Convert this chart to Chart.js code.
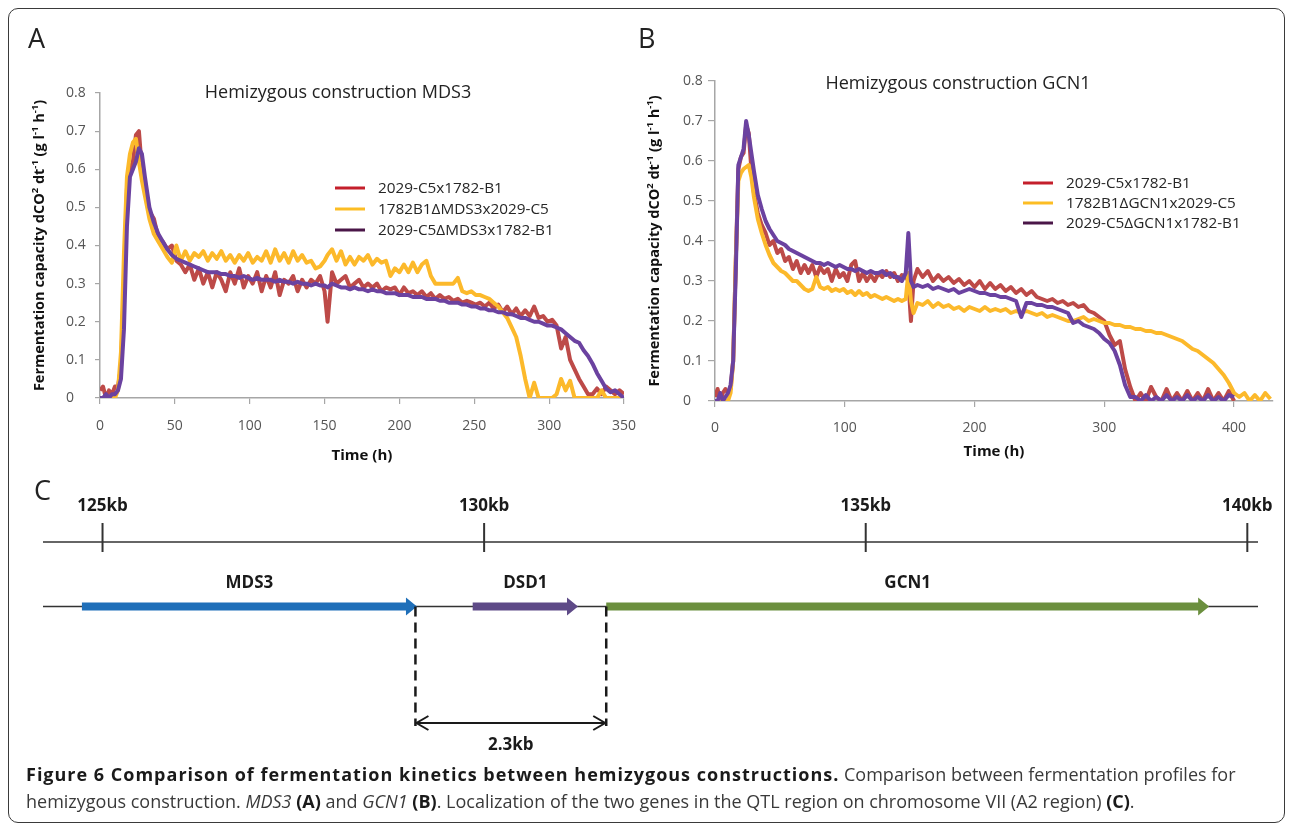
<!DOCTYPE html>
<html>
<head>
<meta charset="utf-8">
<script src="https://cdn.jsdelivr.net/npm/chart.js@4.4.1/dist/chart.umd.min.js"></script>
<style>
  html, body { margin: 0; padding: 0; background: #fff; }
  #fig { position: relative; width: 1293px; height: 827px; overflow: hidden; font-family: 'Open Sans', sans-serif; }
  #frame { position: absolute; left: 8px; top: 8px; width: 1275px; height: 813px; border: 1.5px solid #3a3a3a; border-radius: 10px; }
  canvas { position: absolute; }
  .letter { position: absolute; font-size: 27px; line-height: 1; color: #222; }
  #cap { position: absolute; left: 26px; top: 761px; font-size: 18px; line-height: 27px; color: #3a3a3a; white-space: nowrap; }
  #cap b { color: #1a1a1a; }
  #cap b.head { letter-spacing: 1px; }
</style>
</head>
<body>
<div id="fig">
  <div id="frame"></div>
  <canvas id="chartA" width="650" height="480" style="left:0;top:0;width:650px;height:480px"></canvas>
  <canvas id="chartB" width="673" height="480" style="left:620px;top:0;width:673px;height:480px"></canvas>
  <canvas id="chartC" width="1293" height="290" style="left:0;top:470px;width:1293px;height:290px"></canvas>
  <div class="letter" style="left:28px;top:24px">A</div>
  <div class="letter" style="left:638px;top:24px">B</div>
  <div class="letter" style="left:34px;top:476px">C</div>
  <div id="cap"><b class="head">Figure 6 Comparison of fermentation kinetics between hemizygous constructions.</b> Comparison between fermentation profiles for<br>hemizygous construction. <i>MDS3</i> <b>(A)</b> and <i>GCN1</i> <b>(B)</b>. Localization of the two genes in the QTL region on chromosome VII (A2 region) <b>(C)</b>.</div>
</div>
<script>
// ---- panel A: Hemizygous construction MDS3 ----
const timeA = [0,2,4,6,8,10,12,14,16,18,
  20,22,24,26,28,30,33,36,39,42,
  45,48,51,54,57,60,63,66,69,72,
  75,78,81,84,87,90,93,96,99,102,
  105,108,111,114,117,120,123,126,129,132,
  135,138,141,144,147,150,152,155,158,161,
  164,167,170,173,176,179,182,185,188,191,
  194,197,200,203,206,209,212,215,218,221,
  224,227,230,233,236,239,242,245,248,251,
  254,257,260,263,266,269,272,275,278,281,
  284,287,290,293,296,299,302,305,308,311,
  314,317,320,323,326,329,332,335,338,341,
  344,347,350];
const redA = [0.02,0.03,0.00,0.02,0.01,0.03,0.03,0.08,0.30,0.55,
  0.60,0.62,0.69,0.70,0.60,0.55,0.49,0.47,0.42,0.41,
  0.39,0.40,0.36,0.35,0.33,0.35,0.31,0.34,0.30,0.33,
  0.29,0.33,0.31,0.28,0.33,0.30,0.34,0.29,0.32,0.30,
  0.33,0.28,0.32,0.29,0.33,0.27,0.31,0.30,0.32,0.28,
  0.31,0.29,0.31,0.30,0.32,0.28,0.20,0.33,0.30,0.31,
  0.32,0.29,0.30,0.31,0.29,0.30,0.29,0.30,0.28,0.29,
  0.285,0.29,0.27,0.29,0.275,0.28,0.27,0.28,0.265,0.275,
  0.26,0.27,0.26,0.265,0.255,0.26,0.25,0.255,0.25,0.245,
  0.25,0.24,0.25,0.235,0.245,0.225,0.24,0.22,0.235,0.215,
  0.23,0.215,0.24,0.21,0.215,0.20,0.205,0.19,0.13,0.16,
  0.10,0.075,0.05,0.03,0.01,0.01,0.025,0.01,0.03,0.02,
  0.01,0.02,0.01];
const yellowA = [0,0,0,0,0,0,0.02,0.12,0.38,0.58,
  0.64,0.67,0.68,0.62,0.57,0.53,0.47,0.43,0.41,0.39,
  0.37,0.355,0.40,0.36,0.385,0.36,0.38,0.37,0.385,0.36,
  0.38,0.365,0.385,0.36,0.375,0.355,0.375,0.36,0.38,0.355,
  0.37,0.36,0.385,0.355,0.39,0.36,0.38,0.355,0.385,0.36,
  0.375,0.355,0.36,0.34,0.345,0.36,0.375,0.39,0.36,0.385,
  0.35,0.37,0.35,0.37,0.36,0.375,0.35,0.365,0.355,0.36,
  0.32,0.34,0.33,0.35,0.33,0.355,0.33,0.35,0.36,0.32,
  0.30,0.30,0.30,0.30,0.30,0.315,0.28,0.275,0.28,0.27,
  0.27,0.265,0.26,0.25,0.24,0.225,0.21,0.185,0.16,0.11,
  0.05,0.0,0.04,0.0,0.0,0.0,0.0,0.01,0.05,0.02,
  0.045,0.0,0.0,0.0,0.0,0.0,0.0,0.02,0.0,0.0,
  0,0,0];
const purpleA = [0.0,0.0,0.01,0.0,0.01,0.01,0.02,0.05,0.18,0.45,
  0.58,0.60,0.62,0.655,0.64,0.58,0.50,0.46,0.43,0.41,
  0.39,0.375,0.365,0.36,0.355,0.35,0.345,0.34,0.335,0.33,
  0.33,0.33,0.325,0.325,0.32,0.32,0.315,0.32,0.315,0.31,
  0.315,0.31,0.31,0.31,0.305,0.31,0.305,0.305,0.30,0.305,
  0.30,0.30,0.295,0.30,0.295,0.295,0.29,0.30,0.295,0.29,
  0.29,0.285,0.29,0.285,0.285,0.28,0.285,0.28,0.28,0.275,
  0.275,0.275,0.27,0.27,0.27,0.265,0.265,0.265,0.26,0.26,
  0.26,0.255,0.255,0.25,0.25,0.25,0.245,0.245,0.24,0.24,
  0.235,0.235,0.23,0.23,0.225,0.225,0.22,0.22,0.215,0.21,
  0.21,0.205,0.20,0.20,0.195,0.19,0.19,0.185,0.18,0.17,
  0.16,0.15,0.145,0.125,0.11,0.09,0.065,0.045,0.025,0.015,
  0.02,0.01,0.0];
const labelsA = ['2029-C5x1782-B1', '1782B1ΔMDS3x2029-C5', '2029-C5ΔMDS3x1782-B1'];
const xTicksA = [0, 50, 100, 150, 200, 250, 300, 350];

// ---- panel B: Hemizygous construction GCN1 ----
const timeB = [0,2,4,6,8,10,12,14,16,18,
  20,22,24,26,28,30,33,36,39,42,
  45,48,51,54,57,60,63,66,69,72,
  75,78,81,84,87,90,93,96,99,102,
  105,108,111,114,117,120,123,126,129,132,
  135,138,141,144,147,149,151,153,156,160,
  164,168,172,176,180,184,188,192,196,200,
  204,208,212,216,220,224,228,232,236,240,
  244,248,252,256,260,264,268,272,276,280,
  284,288,292,296,300,304,308,312,316,320,
  324,328,332,336,340,344,348,352,356,360,
  364,368,372,376,380,384,388,392,396,400,
  404,408,412,416,420,424,428];
const redB = [0.01,0.03,0.0,0.02,0.03,0.02,0.03,0.10,0.35,0.58,
  0.61,0.62,0.69,0.67,0.58,0.52,0.47,0.44,0.42,0.39,
  0.40,0.37,0.38,0.35,0.36,0.33,0.35,0.32,0.34,0.32,
  0.34,0.31,0.335,0.32,0.33,0.30,0.33,0.31,0.32,0.30,
  0.34,0.35,0.30,0.32,0.30,0.315,0.30,0.32,0.31,0.325,
  0.31,0.32,0.30,0.315,0.31,0.30,0.20,0.30,0.33,0.31,
  0.325,0.30,0.315,0.30,0.31,0.295,0.305,0.29,0.30,0.285,
  0.30,0.28,0.295,0.28,0.29,0.275,0.285,0.27,0.28,0.265,
  0.275,0.26,0.255,0.25,0.255,0.245,0.25,0.24,0.245,0.235,
  0.24,0.225,0.22,0.21,0.20,0.165,0.14,0.15,0.08,0.035,
  0.0,0.02,0.0,0.035,0.01,0.0,0.03,0.0,0.02,0.0,
  0.025,0.0,0.02,0.0,0.03,0.0,0.02,0.0,0.025,0.0,
  null,null,null,null,null,null,null];
const yellowB = [0,0,0,0,0,0,0.02,0.10,0.35,0.55,
  0.57,0.58,0.585,0.59,0.56,0.51,0.455,0.42,0.39,0.365,
  0.345,0.335,0.325,0.32,0.31,0.30,0.30,0.29,0.28,0.275,
  0.28,0.31,0.285,0.28,0.285,0.275,0.28,0.275,0.28,0.27,
  0.275,0.265,0.275,0.265,0.27,0.26,0.265,0.26,0.255,0.26,
  0.255,0.25,0.255,0.25,0.255,0.32,0.25,0.22,0.245,0.24,
  0.25,0.235,0.245,0.235,0.24,0.23,0.235,0.225,0.235,0.23,
  0.225,0.235,0.225,0.23,0.225,0.23,0.22,0.225,0.22,0.225,
  0.22,0.215,0.22,0.21,0.215,0.21,0.205,0.20,0.20,0.205,
  0.21,0.20,0.205,0.20,0.195,0.195,0.19,0.19,0.185,0.185,
  0.18,0.18,0.175,0.175,0.17,0.17,0.165,0.16,0.155,0.15,
  0.14,0.13,0.125,0.115,0.105,0.095,0.08,0.065,0.045,0.02,
  0.01,0.02,0.0,0.015,0.0,0.02,0.005];
const purpleB = [0,0,0.02,0,0.01,0.02,0.04,0.10,0.32,0.59,
  0.61,0.63,0.70,0.665,0.62,0.575,0.515,0.48,0.45,0.43,
  0.415,0.40,0.395,0.39,0.38,0.375,0.37,0.365,0.36,0.355,
  0.35,0.345,0.345,0.34,0.345,0.34,0.335,0.34,0.335,0.33,
  0.33,0.325,0.33,0.325,0.32,0.325,0.32,0.32,0.325,0.315,
  0.32,0.31,0.31,0.30,0.32,0.42,0.30,0.285,0.29,0.285,
  0.29,0.28,0.285,0.28,0.275,0.28,0.27,0.275,0.28,0.275,
  0.27,0.27,0.265,0.265,0.26,0.26,0.255,0.25,0.21,0.245,
  0.245,0.24,0.24,0.235,0.235,0.23,0.225,0.22,0.195,0.20,
  0.19,0.185,0.18,0.17,0.155,0.145,0.125,0.09,0.04,0.01,
  0.01,0.0,0.015,0.0,0.01,0.0,0.015,0.0,0.01,0.0,
  0.015,0.0,0.01,0.0,0.015,0.0,0.01,0.0,0.015,0.01,
  null,null,null,null,null,null,null];
const labelsB = ['2029-C5x1782-B1', '1782B1ΔGCN1x2029-C5', '2029-C5ΔGCN1x1782-B1'];
const xTicksB = [0, 100, 200, 300, 400];

// shared y ticks
const yTicks = [0, 0.1, 0.2, 0.3, 0.4, 0.5, 0.6, 0.7, 0.8];
const yTickLabels = ['0', '0.1', '0.2', '0.3', '0.4', '0.5', '0.6', '0.7', '0.8'];

// ---- panel C: QTL region, chromosome VII ----
const kbTicks = [125, 130, 135, 140];
const kbTickLabels = ['125kb', '130kb', '135kb', '140kb'];
const geneNames = ['MDS3', 'DSD1', 'GCN1'];
const geneStart = [124.73, 129.85, 131.60];
const geneEnd = [129.12, 131.23, 139.50];
const gapKb = [129.10, 131.60];
const gapLabel = '2.3kb';

// styles
const lineColors = ['#bd4a48', '#fcb92b', '#6b42a0'];
const legendColors = ['#c41f2b', '#fcbd24', '#4a1648'];
const geneColors = ['#1f6fb9', '#5e4a87', '#6b8f3e'];
const yTitleParts = [['Fermentation capacity dCO', 0], ['2', 1], [' dt', 0], ['-1', 1], [' (g l', 0], ['-1', 1], [' h', 0], ['-1', 1], [')', 0]];

Chart.defaults.font.family = "'Open Sans', sans-serif";

// title, legend and rotated y title drawn on the panel canvas
const panelDeco = {
  id: 'panelDeco',
  afterDraw(chart, args, o) {
    const ctx = chart.ctx;
    const area = chart.chartArea;
    ctx.save();
    ctx.textBaseline = 'middle';
    ctx.fillStyle = '#222';
    ctx.textAlign = 'center';
    ctx.font = "18px 'Open Sans'";
    ctx.fillText(o.title, o.titleX, o.titleY);

    // legend
    ctx.textAlign = 'left';
    ctx.font = "15.3px 'Open Sans'";
    chart.data.datasets.forEach((ds, i) => {
      const y = o.legendY + i * o.legendRow;
      ctx.strokeStyle = legendColors[i];
      ctx.lineWidth = 3;
      ctx.beginPath();
      ctx.moveTo(o.legendX, y);
      ctx.lineTo(o.legendX + 30, y);
      ctx.stroke();
      ctx.fillStyle = '#262626';
      ctx.fillText(ds.label, o.legendX + 43, y + 1);
    });

    // y title with superscripts
    const big = "bold 14.5px 'Open Sans'", small = "bold 9.5px 'Open Sans'";
    let total = 0;
    yTitleParts.forEach(p => { ctx.font = p[1] ? small : big; total += ctx.measureText(p[0]).width; });
    ctx.translate(o.yTitleX, (area.top + area.bottom) / 2);
    ctx.rotate(-Math.PI / 2);
    let cx = -total / 2;
    ctx.fillStyle = '#111';
    yTitleParts.forEach(p => {
      ctx.font = p[1] ? small : big;
      ctx.fillText(p[0], cx, p[1] ? -5 : 0);
      cx += ctx.measureText(p[0]).width;
    });
    ctx.restore();
  }
};

function series(times, vals, label, i) {
  return {
    label: label,
    data: times.map((t, k) => ({ x: t, y: vals[k] })),
    borderColor: lineColors[i],
    borderWidth: 4,
    pointRadius: 0,
    tension: 0,
    borderJoinStyle: 'round',
    order: 2 - i,
  };
}

function panel(id, times, vals, labels, xTicks, xMax, lay) {
  return new Chart(document.getElementById(id), {
    type: 'line',
    data: { datasets: vals.map((v, i) => series(times, v, labels[i], i)) },
    plugins: [panelDeco],
    options: {
      responsive: false,
      animation: false,
      layout: { padding: lay.padding },
      scales: {
        x: {
          type: 'linear',
          min: 0,
          max: xMax,
          afterBuildTicks: s => { s.ticks = xTicks.map(v => ({ value: v })); },
          afterFit: s => { s.height = lay.xHeight; },
          grid: { drawOnChartArea: false, tickLength: 6, color: '#a6a6a6', lineWidth: 1.2 },
          border: { color: '#a6a6a6', width: 1.5 },
          ticks: { color: '#555', font: { size: 14 }, padding: lay.xPad, maxRotation: 0 },
          title: { display: true, text: 'Time (h)', color: '#111', font: { size: 15, weight: 'bold' }, padding: 0 },
        },
        y: {
          min: 0,
          max: 0.8,
          afterBuildTicks: s => { s.ticks = yTicks.map(v => ({ value: v })); },
          afterFit: s => { s.width = lay.yWidth; },
          grid: { drawOnChartArea: false, tickLength: lay.yTick, color: '#a6a6a6', lineWidth: 1.2 },
          border: { color: '#a6a6a6', width: 1.5 },
          ticks: { color: '#555', font: { size: 14 }, crossAlign: 'far', callback: (v, i) => yTickLabels[i] },
        },
      },
      plugins: {
        legend: { display: false },
        tooltip: { enabled: false },
        panelDeco: lay.deco,
      },
    },
  });
}

panel('chartA', timeA, [redA, yellowA, purpleA], labelsA, xTicksA, 350, {
  padding: { left: 66, right: 24, top: 93, bottom: 15 },
  xHeight: 67, yWidth: 34, xPad: 14, yTick: 5,
  deco: { title: 'Hemizygous construction MDS3', titleX: 338, titleY: 93,
          legendX: 335, legendY: 188, legendRow: 21, yTitleX: 40 },
});

panel('chartB', timeB, [redB, yellowB, purpleB], labelsB, xTicksB, 430, {
  padding: { left: 63, right: 20, top: 81, bottom: 19 },
  xHeight: 60, yWidth: 32, xPad: 13, yTick: 7,
  deco: { title: 'Hemizygous construction GCN1', titleX: 338, titleY: 84,
          legendX: 403, legendY: 183, legendRow: 20, yTitleX: 35 },
});

// gene map: everything placed along the kb scale
const rows = { kbLabel: 36, ruler: 72, geneLabel: 113, gene: 136.5, gapArrow: 253, gapLabel: 275 };
const geneMap = {
  id: 'geneMap',
  afterDraw(chart) {
    const ctx = chart.ctx;
    const xs = chart.scales.x, ys = chart.scales.y;
    const px = v => xs.getPixelForValue(v);
    const py = v => ys.getPixelForValue(v);
    const L = chart.chartArea.left, R = chart.chartArea.right;
    const seg = (x0, y0, x1, y1) => { ctx.beginPath(); ctx.moveTo(x0, y0); ctx.lineTo(x1, y1); ctx.stroke(); };
    ctx.save();
    ctx.strokeStyle = '#333';
    ctx.fillStyle = '#1a1a1a';
    ctx.textAlign = 'center';
    ctx.textBaseline = 'middle';
    ctx.font = "bold 17px 'Open Sans'";

    // kb ruler
    ctx.lineWidth = 1.5;
    const yr = py(rows.ruler);
    seg(L, yr, R, yr);
    ctx.lineWidth = 2;
    kbTicks.forEach((k, i) => {
      seg(px(k), yr - 19, px(k), yr + 10);
      ctx.fillText(kbTickLabels[i], px(k), py(rows.kbLabel));
    });

    // gene line and arrows
    const yg = py(rows.gene);
    ctx.lineWidth = 1.5;
    seg(L, yg, R, yg);
    geneNames.forEach((g, i) => {
      const x0 = px(geneStart[i]), x1 = px(geneEnd[i]);
      ctx.fillStyle = geneColors[i];
      ctx.beginPath();
      ctx.moveTo(x0, yg - 4);
      ctx.lineTo(x1 - 11, yg - 4);
      ctx.lineTo(x1 - 11, yg - 9);
      ctx.lineTo(x1, yg);
      ctx.lineTo(x1 - 11, yg + 9);
      ctx.lineTo(x1 - 11, yg + 4);
      ctx.lineTo(x0, yg + 4);
      ctx.closePath();
      ctx.fill();
      ctx.fillStyle = '#1a1a1a';
      ctx.fillText(g, (x0 + x1) / 2, py(rows.geneLabel));
    });

    // intergenic span
    const ya = py(rows.gapArrow);
    const g0 = px(gapKb[0]), g1 = px(gapKb[1]);
    ctx.strokeStyle = '#1a1a1a';
    ctx.lineWidth = 2.5;
    ctx.setLineDash([10, 6]);
    seg(g0, yg, g0, ya + 3);
    seg(g1, yg, g1, ya + 3);
    ctx.setLineDash([]);
    ctx.lineWidth = 2;
    seg(g0, ya, g1, ya);
    ctx.beginPath();
    ctx.moveTo(g0 + 13, ya - 7); ctx.lineTo(g0 + 1, ya); ctx.lineTo(g0 + 13, ya + 7);
    ctx.moveTo(g1 - 13, ya - 7); ctx.lineTo(g1 - 1, ya); ctx.lineTo(g1 - 13, ya + 7);
    ctx.stroke();
    ctx.fillText(gapLabel, (g0 + g1) / 2, py(rows.gapLabel));
    ctx.restore();
  }
};

new Chart(document.getElementById('chartC'), {
  type: 'scatter',
  data: { datasets: [] },
  plugins: [geneMap],
  options: {
    responsive: false,
    animation: false,
    layout: { padding: { left: 43, right: 35, top: 0, bottom: 0 } },
    scales: {
      x: { type: 'linear', min: 124.22, max: 140.14, display: false },
      y: { type: 'linear', min: 0, max: 290, reverse: true, display: false },
    },
    plugins: { legend: { display: false }, tooltip: { enabled: false } },
  },
});
</script>
</body>
</html>
